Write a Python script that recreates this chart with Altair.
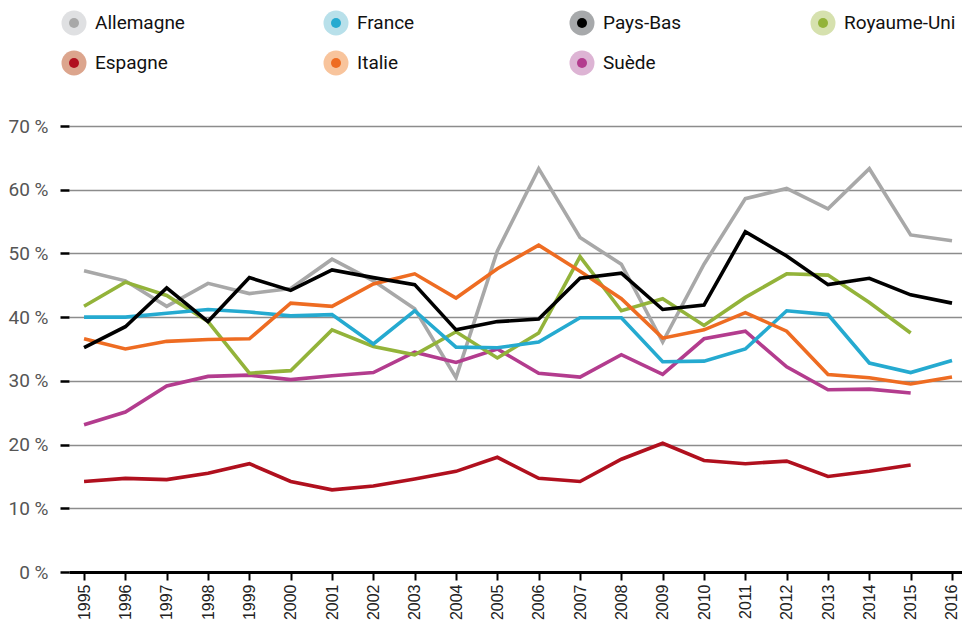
import altair as alt
import pandas as pd

years = list(range(1995, 2017))

allemagne = [47.3, 45.7, 41.7, 45.3, 43.7, 44.5, 49.1, 45.7, 41.3, 30.5, 50.4, 63.3,
             52.5, 48.3, 36.1, 48.3, 58.6, 60.2, 57.0, 63.3, 52.9, 52.0]
france = [40.0, 40.0, 40.6, 41.2, 40.8, 40.2, 40.4, 35.8, 41.0, 35.3, 35.2, 36.1,
          39.9, 39.9, 33.0, 33.1, 35.0, 41.0, 40.4, 32.8, 31.3, 33.2]
pays_bas = [35.2, 38.5, 44.6, 39.3, 46.2, 44.2, 47.4, 46.2, 45.1, 38.0, 39.3, 39.7,
            46.1, 46.9, 41.2, 41.9, 53.4, 49.6, 45.1, 46.1, 43.5, 42.2]
royaume_uni = [41.7, 45.5, 43.4, 39.3, 31.2, 31.6, 38.0, 35.4, 34.1, 37.7, 33.6, 37.5,
               49.5, 41.0, 42.9, 38.7, 43.1, 46.8, 46.6, 42.3, 37.5, None]
espagne = [14.2, 14.7, 14.5, 15.5, 17.0, 14.2, 12.9, 13.5, 14.6, 15.8, 18.0, 14.7,
           14.2, 17.7, 20.2, 17.5, 17.0, 17.4, 15.0, 15.8, 16.8, None]
italie = [36.6, 35.0, 36.2, 36.5, 36.6, 42.2, 41.7, 45.2, 46.8, 43.0, 47.6, 51.3,
          47.2, 42.9, 36.7, 38.0, 40.7, 37.8, 31.0, 30.5, 29.5, 30.6]
suede = [23.1, 25.1, 29.2, 30.7, 30.9, 30.2, 30.8, 31.3, 34.5, 32.9, 35.0, 31.2,
         30.6, 34.1, 31.0, 36.6, 37.8, 32.2, 28.6, 28.7, 28.1, None]

legend_order = ["Allemagne", "France", "Pays-Bas", "Royaume-Uni", "Espagne", "Italie", "Suède"]
line_colors = ["#a8a8a8", "#25aad0", "#000000", "#93b33a", "#b0101e", "#ee6c22", "#b33c8e"]
ring_colors = ["#dfe0e2", "#b8e0ea", "#a7a9ab", "#d6e1ae", "#dca58d", "#f8c49c", "#ddb4d4"]

series = {
    "Allemagne": allemagne, "Espagne": espagne, "Suède": suede,
    "Royaume-Uni": royaume_uni, "France": france, "Italie": italie, "Pays-Bas": pays_bas,
}

rows = []
for name, vals in series.items():
    for y, v in zip(years, vals):
        if v is not None:
            rows.append({"pays": name, "annee": y, "valeur": v})
df = pd.DataFrame(rows)

FONT_N = "Roboto, sans-serif"
FONT = "Liberation Sans, Arial, sans-serif"

color_scale = alt.Scale(domain=legend_order, range=line_colors)

lines = alt.Chart(df).mark_line(strokeWidth=3.6, strokeJoin="miter").encode(
    x=alt.X("annee:Q", title=None,
            scale=alt.Scale(domain=[1994.636, 2016.242], nice=False, zero=False),
            axis=alt.Axis(values=years, format="d", labelAngle=270, grid=False,
                          domainColor="#000000", domainWidth=3,
                          tickColor="#000000", tickWidth=2, tickSize=8,
                          labelFont=FONT, labelFontSize=16, labelColor="#222222",
                          labelPadding=4)),
    y=alt.Y("valeur:Q", title=None,
            scale=alt.Scale(domain=[0, 70], nice=False),
            axis=alt.Axis(values=[0, 10, 20, 30, 40, 50, 60, 70],
                          labelExpr="datum.value + ' %'", domain=False,
                          tickColor="#000000", tickWidth=2.5, tickSize=9,
                          gridColor="#8c8c8c", gridWidth=1.5,
                          labelFont=FONT_N, labelFontSize=19, labelColor="#555555",
                          labelPadding=12)),
    color=alt.Color("pays:N", scale=color_scale, legend=None),
    detail="pays:N",
)

leg_df = pd.DataFrame({
    "pays": legend_order,
    "col": [i % 4 for i in range(len(legend_order))],
    "row": [i // 4 for i in range(len(legend_order))],
})

lx = alt.X("col:Q", scale=alt.Scale(domain=[0, 1, 2, 3], range=[5, 267, 513, 754]), axis=None)
ly = alt.Y("row:Q", scale=alt.Scale(domain=[0, 1], range=[-103, -63]), axis=None)

outer = alt.Chart(leg_df).mark_point(filled=True, size=625, opacity=1, shape="circle").encode(
    x=lx, y=ly,
    color=alt.Color("pays:N", scale=alt.Scale(domain=legend_order, range=ring_colors), legend=None),
)
inner = alt.Chart(leg_df).mark_point(filled=True, size=100, opacity=1, shape="circle").encode(
    x=lx, y=ly,
    color=alt.Color("pays:N", scale=alt.Scale(domain=legend_order, range=line_colors), legend=None),
)
labels = alt.Chart(leg_df).mark_text(align="left", baseline="middle", dx=21,
                                     font=FONT_N, fontSize=19, color="#111111").encode(
    x=lx, y=ly, text="pays:N",
)

chart = alt.layer(lines, outer, inner, labels).resolve_scale(
    x="independent", y="independent", color="independent"
).properties(
    width=954, height=612,
    padding={"top": 2, "left": 0, "right": 0, "bottom": 0},
    autosize=alt.AutoSizeParams(type="fit", contains="padding"),
).configure_view(stroke=None)

chart.save("out.html", embed_options={"renderer": "svg", "actions": False})
